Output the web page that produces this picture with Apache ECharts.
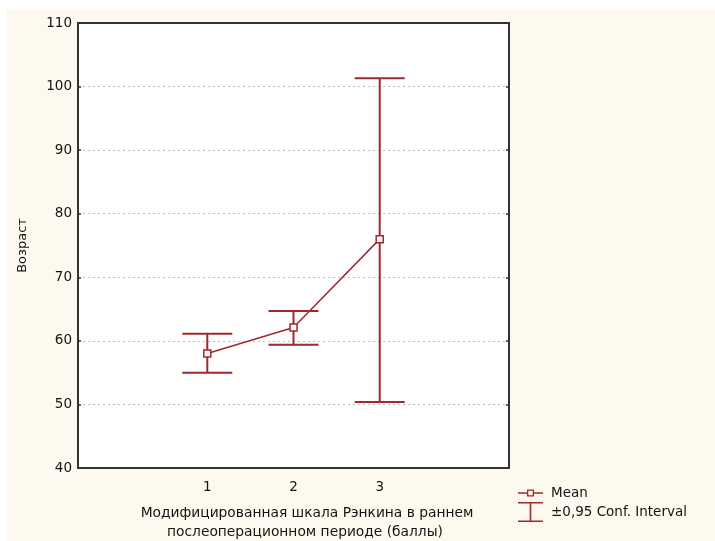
<!DOCTYPE html>
<html>
<head>
<meta charset="utf-8">
<script src="https://cdn.jsdelivr.net/npm/echarts@6/dist/echarts.min.js"></script>
<style>html,body{margin:0;padding:0;background:#fff;}#c{width:715px;height:541px;}</style>
</head>
<body>
<div id="c"></div>
<script>
// Data
var categories = ['', '1', '2', '3', ''];
var meanValues = [null, 58.0, 62.1, 76.0, null];
var ciLower = [null, 55.0, 59.4, 50.4, null];
var ciUpper = [null, 61.1, 64.7, 101.3, null];
var yTicks = [40, 50, 60, 70, 80, 90, 100, 110];
var yName = 'Возраст';
var xNameLines = ['Модифицированная шкала Рэнкина в раннем', 'послеоперационном периоде (баллы)'];
var legendNames = ['Mean', '±0,95 Conf. Interval'];

var RED = '#9e2a2b';
var FONT = 'DejaVu Sans';
var TXT = '#141414';

var ciData = [];
for (var i = 0; i < categories.length; i++) {
  if (meanValues[i] != null) ciData.push([i, ciLower[i], ciUpper[i]]);
}
var meanData = [];
for (var j = 0; j < categories.length; j++) {
  if (meanValues[j] != null) meanData.push([j, meanValues[j]]);
}

var chart = echarts.init(document.getElementById('c'), null, {renderer: 'canvas'});
var axisLineStyle = {color: '#333', width: 2};
var option = {
  backgroundColor: '#fff',
  animation: false,
  textStyle: {fontFamily: FONT},
  graphic: [
    {type: 'rect', z: -10, shape: {x: 7, y: 10, width: 708, height: 531}, style: {fill: '#fef9ee'}, silent: true},
    {type: 'text', style: {text: xNameLines[0], font: '13.8px "DejaVu Sans"', fill: TXT, textAlign: 'center', textVerticalAlign: 'middle'}, x: 307, y: 513, silent: true},
    {type: 'text', style: {text: xNameLines[1], font: '13.8px "DejaVu Sans"', fill: TXT, textAlign: 'center', textVerticalAlign: 'middle'}, x: 305, y: 532, silent: true}
  ],
  grid: {left: 78, top: 23, right: 206, bottom: 73, show: true, backgroundColor: '#fff', borderWidth: 0},
  legend: {
    orient: 'vertical', left: 513, top: 481, itemWidth: 25, itemHeight: 20, itemGap: 2,
    symbolKeepAspect: true,
    textStyle: {fontFamily: FONT, fontSize: 13.5, color: TXT, padding: [0, 0, 0, 3]},
    itemStyle: {color: RED, borderWidth: 0},
    data: [
      {name: legendNames[0], icon: 'path://M0,2.8 H9 V0 H16 V2.8 H25 V4.4 H16 V7.2 H9 V4.4 H0 Z M10.3,1.3 V5.9 H14.7 V1.3 Z'},
      {name: legendNames[1], icon: 'path://M0,0 H25 V1.6 H13.3 V18.4 H25 V20 H0 V18.4 H11.7 V1.6 H0 Z'}
    ]
  },
  xAxis: [
    {type: 'category', data: categories, boundaryGap: true, position: 'bottom',
     axisLine: {lineStyle: axisLineStyle}, axisTick: {inside: true, alignWithLabel: true, length: 3, lineStyle: {color: '#333', width: 1.5}},
     axisLabel: {fontFamily: FONT, fontSize: 13.5, color: TXT, margin: 12}, splitLine: {show: false}},
    {type: 'category', data: categories, boundaryGap: true, position: 'top',
     axisLine: {lineStyle: axisLineStyle}, axisTick: {inside: true, alignWithLabel: true, length: 3, lineStyle: {color: '#333', width: 1.5}},
     axisLabel: {show: false}, splitLine: {show: false}}
  ],
  yAxis: [
    {type: 'value', min: yTicks[0], max: yTicks[yTicks.length - 1], interval: 10,
     name: yName, nameLocation: 'middle', nameGap: 49, nameRotate: 90,
     nameTextStyle: {fontFamily: FONT, fontSize: 13, color: TXT},
     axisLine: {show: true, lineStyle: axisLineStyle}, axisTick: {show: true, inside: true, length: 3, lineStyle: {color: '#333', width: 1.5}},
     axisLabel: {fontFamily: FONT, fontSize: 13.5, color: TXT, margin: 6},
     splitLine: {show: true, lineStyle: {color: '#bbb', type: [2, 3], width: 1}}},
    {type: 'value', min: yTicks[0], max: yTicks[yTicks.length - 1], interval: 10, position: 'right',
     axisLine: {show: true, lineStyle: axisLineStyle}, axisTick: {show: true, inside: true, length: 3, lineStyle: {color: '#333', width: 1.5}},
     axisLabel: {show: false}, splitLine: {show: false}}
  ],
  series: [
    {
      name: legendNames[1], type: 'custom', z: 3,
      itemStyle: {color: RED},
      renderItem: function (params, api) {
        var x = api.value(0);
        var lo = api.coord([x, api.value(1)]);
        var hi = api.coord([x, api.value(2)]);
        var half = api.size([1, 0])[0] * 0.29;
        var st = {stroke: RED, lineWidth: 2, fill: null};
        return {type: 'group', children: [
          {type: 'line', shape: {x1: hi[0], y1: hi[1], x2: lo[0], y2: lo[1]}, style: st},
          {type: 'line', shape: {x1: hi[0] - half, y1: hi[1], x2: hi[0] + half, y2: hi[1]}, style: st},
          {type: 'line', shape: {x1: lo[0] - half, y1: lo[1], x2: lo[0] + half, y2: lo[1]}, style: st}
        ]};
      },
      encode: {x: 0, y: [1, 2]},
      data: ciData
    },
    {
      name: legendNames[0], type: 'line', z: 4,
      data: meanData,
      symbol: 'rect', symbolSize: 7,
      lineStyle: {color: RED, width: 1.5},
      itemStyle: {color: '#fff', borderColor: RED, borderWidth: 1.5}
    }
  ]
};
chart.setOption(option);
</script>
</body>
</html>
